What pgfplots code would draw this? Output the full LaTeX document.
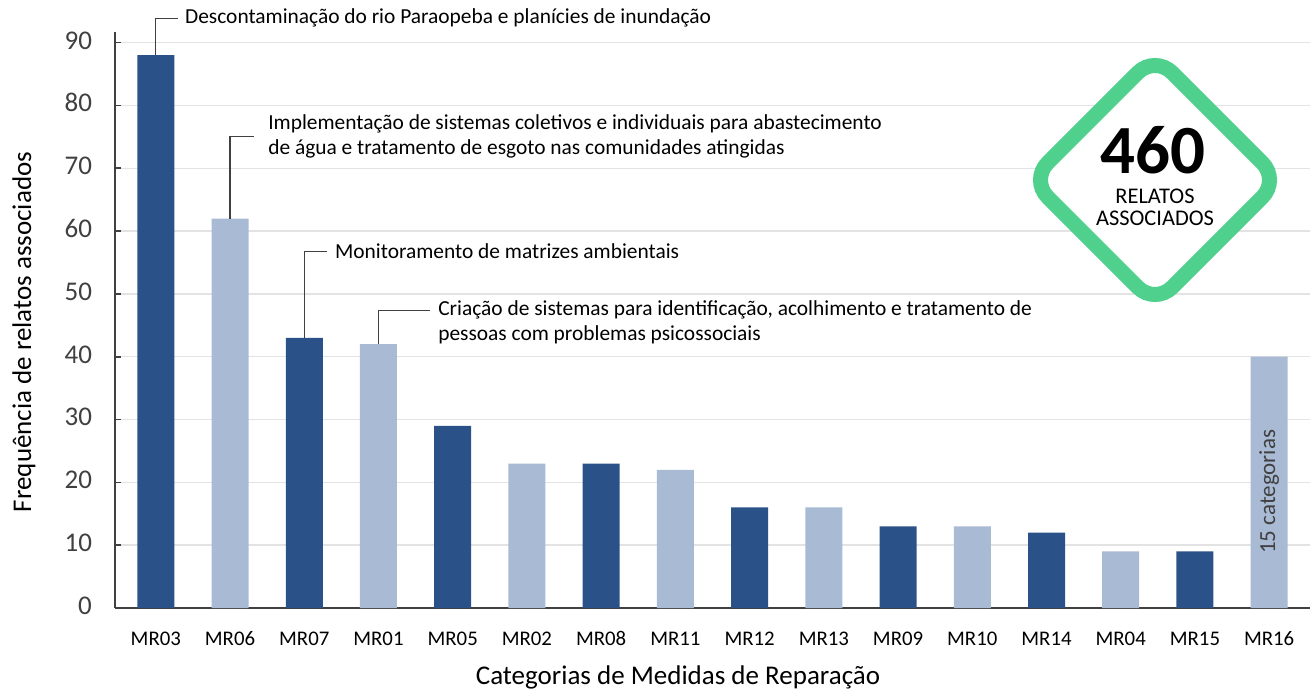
\documentclass[border=0pt]{standalone}
\usepackage{fontspec}
\setmainfont{Carlito}
\usepackage{pgfplots}
\pgfplotsset{compat=1.18}
\definecolor{darkbar}{HTML}{2B5189}
\definecolor{lightbar}{HTML}{A9BAD4}
\definecolor{diam}{HTML}{4FD18D}
\definecolor{axisgray}{HTML}{404040}

\begin{document}
\begin{tikzpicture}
\begin{axis}[
    at={(0,0)}, anchor=south west,
    scale only axis, width=597.5pt, height=288pt,
    xmin=-0.55, xmax=15.55, ymin=0, ymax=91.7,
    axis x line=bottom, axis y line=left,
    axis line style={-, draw=axisgray, line width=0.9pt},
    ytick={0,10,...,90},
    xtick={0,...,15},
    xticklabels={MR03,MR06,MR07,MR01,MR05,MR02,MR08,MR11,MR12,MR13,MR09,MR10,MR14,MR04,MR15,MR16},
    ymajorgrids, grid style={draw=black!11, line width=0.7pt},
    tick align=inside, major tick length=3pt,
    ytick style={axisgray, line width=0.8pt}, xtick style={draw=none},
    yticklabel style={font=\fontsize{13.5}{16}\selectfont, text=axisgray, xshift=-8pt},
    xticklabel style={font=\fontsize{10.4}{12}\selectfont, yshift=-4pt},
    typeset ticklabels with strut,
    /pgf/number format/assume math mode=true,
    ybar, bar width=18.5pt,
    clip=false,
]
% alternating colours
\addplot[fill=darkbar, draw=none, bar shift=0pt] coordinates {
    (0,88) (2,43) (4,29) (6,23) (8,16) (10,13) (12,12) (14,9)
};
\addplot[fill=lightbar, draw=none, bar shift=0pt] coordinates {
    (1,62) (3,42) (5,23) (7,22) (9,16) (11,13) (13,9) (15,40)
};

% leader lines and notes
\begin{scope}[every node/.style={inner sep=0pt, anchor=west, align=left,
    font=\fontsize{10.7}{12.5}\selectfont}]
\draw[axisgray, line width=0.6pt] (axis cs:0,88) |- (axis cs:0.30,93.9);
\node at (axis cs:0.39,93.9) {Descontaminação do rio Paraopeba e planícies de inundação};
\draw[axisgray, line width=0.6pt] (axis cs:1,62) |- (axis cs:1.32,75.0);
\node at (axis cs:1.51,75.0) {Implementação de sistemas coletivos e individuais para abastecimento\\de água e tratamento de esgoto nas comunidades atingidas};
\draw[axisgray, line width=0.6pt] (axis cs:2,43) |- (axis cs:2.30,56.8);
\node at (axis cs:2.41,56.8) {Monitoramento de matrizes ambientais};
\draw[axisgray, line width=0.6pt] (axis cs:3,42) |- (axis cs:3.69,47.3);
\node at (axis cs:3.80,45.5) {Criação de sistemas para identificação, acolhimento e tratamento de\\pessoas com problemas psicossociais};
\end{scope}
\node[rotate=90, font=\fontsize{11.5}{13}\selectfont, text=axisgray] at (axis cs:15,18.5) {15 categorias};
\end{axis}

% axis titles
\node[rotate=90, font=\fontsize{13.5}{16}\selectfont] at (-45.5pt,138pt) {Frequência de relatos associados};
\node[font=\fontsize{13.5}{16}\selectfont] at (281.5pt,-34.5pt) {Categorias de Medidas de Reparação};

% badge
\node[draw=diam, fill=white, line width=7.5pt, rounded corners=12pt,
      minimum width=88pt, minimum height=88pt, rotate=45] at (520pt,214pt) {};
\node[font=\fontsize{34.5}{36}\selectfont\bfseries, inner sep=0pt] at (519pt,229pt) {460};
\node[font=\fontsize{11.2}{12}\selectfont, inner sep=0pt, align=center] at (520pt,200.5pt) {RELATOS\\[-1pt]ASSOCIADOS};

\pgfresetboundingbox
\path[use as bounding box] (-57.5pt,-41.5pt) rectangle (598.5pt,304pt);
\end{tikzpicture}
\end{document}
